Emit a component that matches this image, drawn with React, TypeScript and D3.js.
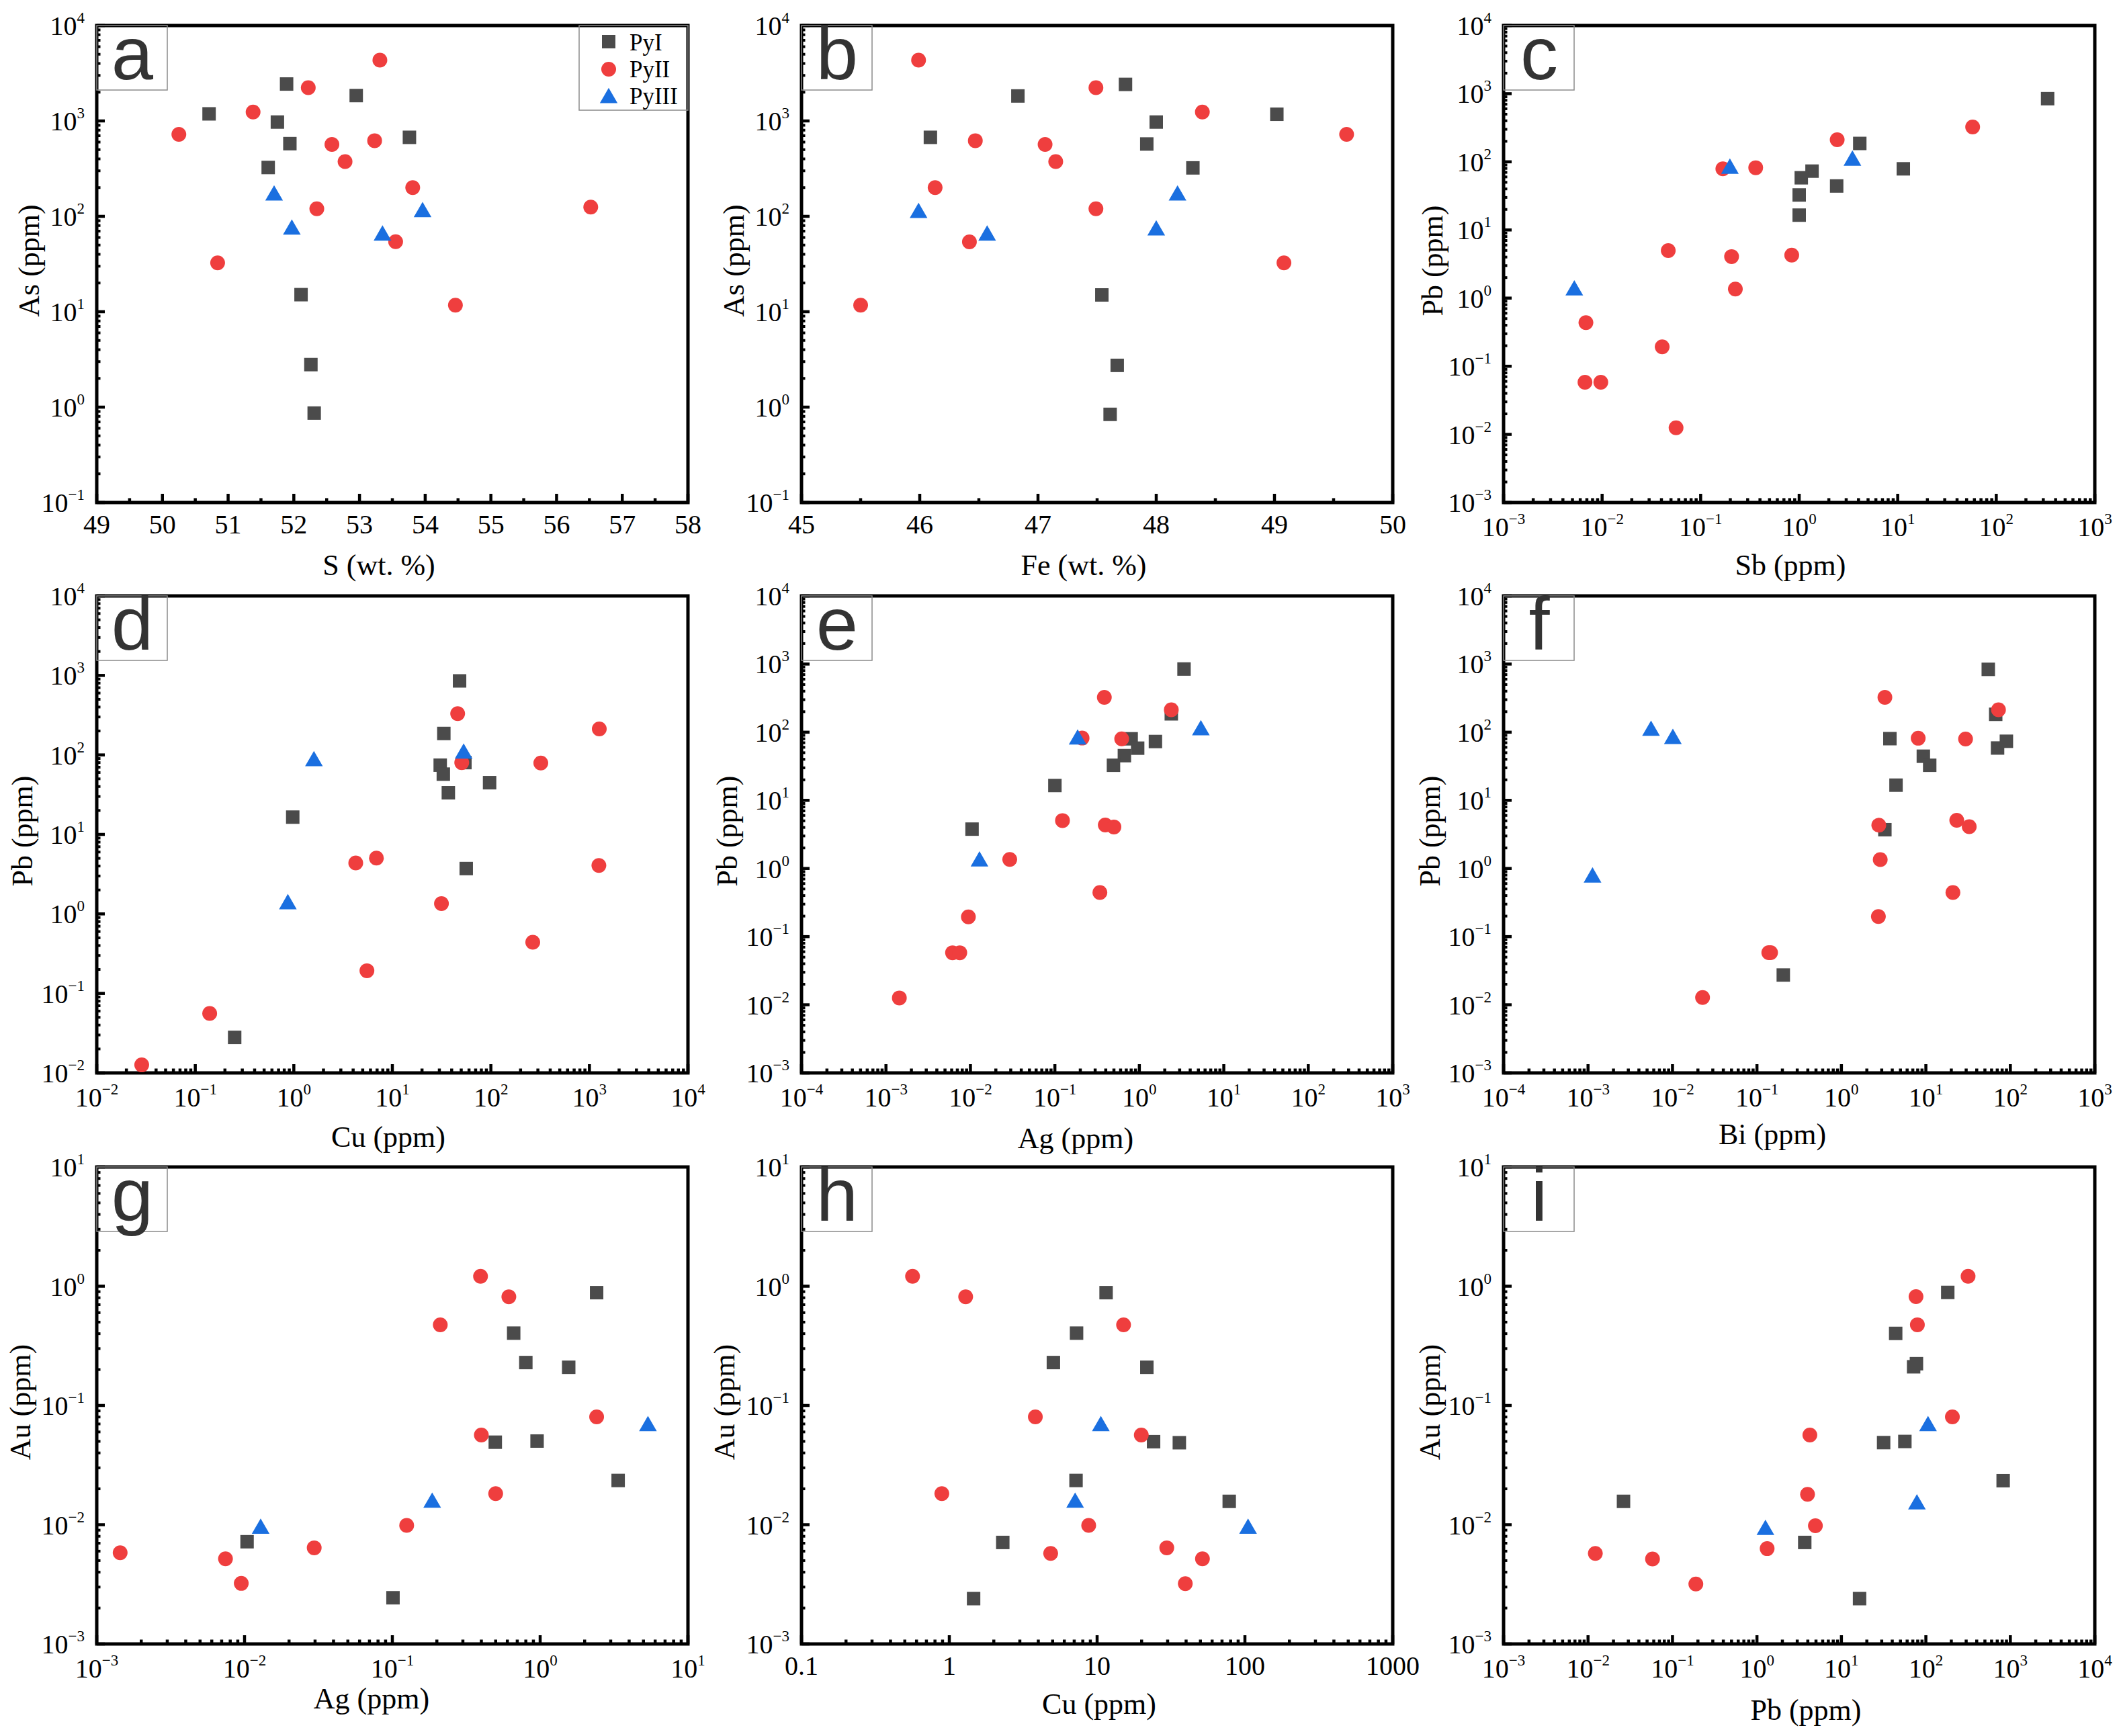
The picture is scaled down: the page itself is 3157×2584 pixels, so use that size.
import * as d3 from "d3";

type Pt = [number, number];

const SERIES = ["PyI", "PyII", "PyIII"];
const COLORS = ["#4b4b4b", "#ef3e3e", "#1a6fe0"];

// a: S (wt.%) vs As (ppm)
const aPyI: Pt[] = [[50.71, 1186], [51.89, 2437], [52.95, 1845], [51.75, 973], [51.94, 578], [51.61, 325], [53.76, 673], [52.11, 15.1], [52.26, 2.79], [52.31, 0.866]];
const aPyII: Pt[] = [[53.31, 4335], [52.22, 2228], [51.38, 1241], [50.25, 723], [52.58, 567], [53.23, 621], [52.78, 375], [53.81, 200], [52.35, 120], [53.55, 54.2], [56.52, 125], [50.84, 32.5], [54.46, 11.7]];
const aPyIII: Pt[] = [[51.7, 171], [51.97, 75], [53.35, 65], [53.96, 114.5]];

// b: Fe (wt.%) vs As (ppm)
const bPyI: Pt[] = [[46.83, 1827], [47.74, 2415], [46.09, 673], [48.0, 973], [47.92, 573], [48.31, 322], [49.02, 1175], [47.54, 15], [47.67, 2.74], [47.61, 0.84]];
const bPyII: Pt[] = [[45.99, 4335], [47.49, 2228], [48.39, 1241], [49.61, 723], [46.47, 621], [47.06, 567], [47.15, 375], [46.13, 200], [47.49, 120], [46.42, 54], [49.08, 32.5], [45.5, 11.7]];
const bPyIII: Pt[] = [[45.99, 112], [46.57, 65], [48.0, 73.6], [48.18, 171]];

// c: Sb vs Pb
const cPyI: Pt[] = [[332, 845], [4.12, 186], [11.4, 78.9], [1.35, 73], [1.05, 58.3], [2.4, 44.2], [1.0, 32.6], [1.0, 16.5]];
const cPyII: Pt[] = [[57.6, 325], [2.43, 211], [0.362, 81.9], [0.168, 78.9], [0.0469, 4.99], [0.206, 4.07], [0.84, 4.28], [0.225, 1.36], [0.00685, 0.437], [0.0407, 0.193], [0.0067, 0.0582], [0.0097, 0.0582], [0.0563, 0.0125]];
const cPyIII: Pt[] = [[0.198, 83], [3.47, 109], [0.00522, 1.36]];

// d: Cu vs Pb
const dPyI: Pt[] = [[48.1, 853], [33.3, 186], [30.6, 74.3], [32.9, 57.3], [54.5, 80], [37, 33.4], [97, 44.7], [0.975, 16.5], [56.2, 3.72], [0.251, 0.028]];
const dPyII: Pt[] = [[46, 330], [1259, 212], [50.6, 80], [321, 79], [4.25, 4.38], [6.89, 5.04], [1247, 4.06], [31.5, 1.35], [266, 0.44], [5.52, 0.193], [0.14, 0.056], [0.0286, 0.0126]];
const dPyIII: Pt[] = [[1.6, 87], [52.9, 108], [0.87, 1.38]];

// e: Ag vs Pb
const ePyI: Pt[] = [[3.38, 845], [2.39, 186], [0.8, 80], [0.955, 58.3], [1.55, 73], [0.665, 45.3], [0.494, 32.7], [0.1, 16.5], [0.01045, 3.78]];
const ePyII: Pt[] = [[0.385, 324], [2.39, 213], [0.21, 82], [0.618, 80], [0.123, 5.05], [0.395, 4.34], [0.5, 4.07], [0.0292, 1.36], [0.341, 0.443], [0.00946, 0.195], [0.00614, 0.058], [0.00748, 0.058], [0.00144, 0.0126]];
const ePyIII: Pt[] = [[0.186, 82], [5.35, 112], [0.0128, 1.33]];

// f: Bi vs Pb
const fPyI: Pt[] = [[54.8, 836], [67.1, 183], [3.75, 80.4], [70.6, 58.6], [89.8, 73.6], [9.33, 44.4], [11.1, 32.7], [4.43, 16.7], [3.27, 3.71], [0.205, 0.0273]];
const fPyII: Pt[] = [[3.27, 324], [72.4, 213], [8.11, 81.5], [29.5, 79.4], [2.77, 4.32], [23.2, 5.09], [32.6, 4.1], [2.88, 1.35], [20.9, 0.443], [2.74, 0.197], [0.138, 0.0583], [0.145, 0.0583], [0.0227, 0.0128]];
const fPyIII: Pt[] = [[0.00557, 110], [0.0101, 83.5], [0.00113, 0.773]];

// g: Ag vs Au
const gPyI: Pt[] = [[2.41, 0.883], [0.662, 0.404], [0.8, 0.229], [1.56, 0.209], [0.497, 0.0492], [0.953, 0.0503], [3.37, 0.0235], [0.0104, 0.0072], [0.101, 0.00244]];
const gPyII: Pt[] = [[0.395, 1.21], [0.614, 0.815], [0.211, 0.474], [2.41, 0.0803], [0.4, 0.0565], [0.5, 0.0182], [0.125, 0.00986], [0.0296, 0.0064], [0.00144, 0.00582], [0.00743, 0.00518], [0.0095, 0.00322]];
const gPyIII: Pt[] = [[5.36, 0.069], [0.186, 0.0157], [0.01285, 0.0095]];

// h: Cu vs Au
const hPyI: Pt[] = [[11.5, 0.883], [7.26, 0.404], [5.06, 0.229], [21.7, 0.209], [24.1, 0.0497], [36, 0.0487], [7.2, 0.0235], [78.3, 0.0157], [2.3, 0.0071], [1.46, 0.0024]];
const hPyII: Pt[] = [[0.564, 1.21], [1.29, 0.815], [15.1, 0.474], [3.82, 0.0803], [19.9, 0.0565], [0.89, 0.0182], [8.77, 0.00986], [29.6, 0.0064], [4.85, 0.00574], [51.6, 0.00518], [39.5, 0.0032]];
const hPyIII: Pt[] = [[10.6, 0.069], [7.1, 0.0157], [105, 0.0095]];

// i: Pb vs Au
const iPyI: Pt[] = [[181.6, 0.887], [43.9, 0.402], [77.3, 0.224], [71.6, 0.211], [31.6, 0.0488], [56.4, 0.0499], [822, 0.0234], [0.0263, 0.0157], [3.68, 0.0071], [16.4, 0.0024]];
const iPyII: Pt[] = [[316, 1.21], [76.4, 0.818], [79.3, 0.475], [206, 0.0803], [4.23, 0.0565], [3.97, 0.018], [4.92, 0.0098], [1.32, 0.0063], [0.0122, 0.00575], [0.058, 0.00516], [0.189, 0.00318]];
const iPyIII: Pt[] = [[106, 0.069], [78.3, 0.0152], [1.26, 0.0093]];

interface Panel {
  letter: string;
  col: number;
  row: number;
  xLog: boolean;
  xDomain: [number, number];
  yDomain: [number, number];
  xTitle: string;
  yTitle: string;
  data: Pt[][];
  xPlain?: boolean;
  titleDx: number;
  titleDy: number;
  yTitleDx: number;
}

const PANELS: Panel[] = [
  { letter: "a", col: 0, row: 0, xLog: false, xDomain: [49, 58], yDomain: [0.1, 1e4], xTitle: "S (wt. %)", yTitle: "As (ppm)", data: [aPyI, aPyII, aPyIII], titleDx: -20, titleDy: 108, yTitleDx: -86 },
  { letter: "b", col: 1, row: 0, xLog: false, xDomain: [45, 50], yDomain: [0.1, 1e4], xTitle: "Fe (wt. %)", yTitle: "As (ppm)", data: [bPyI, bPyII, bPyIII], titleDx: -20, titleDy: 108, yTitleDx: -86 },
  { letter: "c", col: 2, row: 0, xLog: true, xDomain: [1e-3, 1e3], yDomain: [1e-3, 1e4], xTitle: "Sb (ppm)", yTitle: "Pb (ppm)", data: [cPyI, cPyII, cPyIII], titleDx: -13, titleDy: 108, yTitleDx: -91 },
  { letter: "d", col: 0, row: 1, xLog: true, xDomain: [1e-2, 1e4], yDomain: [1e-2, 1e4], xTitle: "Cu (ppm)", yTitle: "Pb (ppm)", data: [dPyI, dPyII, dPyIII], titleDx: -6, titleDy: 110, yTitleDx: -96 },
  { letter: "e", col: 1, row: 1, xLog: true, xDomain: [1e-4, 1e3], yDomain: [1e-3, 1e4], xTitle: "Ag (ppm)", yTitle: "Pb (ppm)", data: [ePyI, ePyII, ePyIII], titleDx: -32, titleDy: 112, yTitleDx: -96 },
  { letter: "f", col: 2, row: 1, xLog: true, xDomain: [1e-4, 1e3], yDomain: [1e-3, 1e4], xTitle: "Bi (ppm)", yTitle: "Pb (ppm)", data: [fPyI, fPyII, fPyIII], titleDx: -40, titleDy: 106, yTitleDx: -95 },
  { letter: "g", col: 0, row: 2, xLog: true, xDomain: [1e-3, 1e1], yDomain: [1e-3, 1e1], xTitle: "Ag (ppm)", yTitle: "Au (ppm)", data: [gPyI, gPyII, gPyIII], titleDx: -31, titleDy: 96, yTitleDx: -99 },
  { letter: "h", col: 1, row: 2, xLog: true, xDomain: [0.1, 1000], yDomain: [1e-3, 1e1], xTitle: "Cu (ppm)", yTitle: "Au (ppm)", data: [hPyI, hPyII, hPyIII], xPlain: true, titleDx: 3, titleDy: 104, yTitleDx: -100 },
  { letter: "i", col: 2, row: 2, xLog: true, xDomain: [1e-3, 1e4], yDomain: [1e-3, 1e1], xTitle: "Pb (ppm)", yTitle: "Au (ppm)", data: [iPyI, iPyII, iPyIII], titleDx: 10, titleDy: 113, yTitleDx: -95 },
];

const WIDTH = 3157;
const HEIGHT = 2584;
const PW = 880;
const PH = 710;
const COL_X = [144, 1193, 2238];
const ROW_Y = [38, 887, 1737];

const SERIF = "Liberation Serif";
const SANS = "Liberation Sans";

const triPath = d3.symbol().type(d3.symbolTriangle).size(300)() as string;

function decades(lo: number, hi: number) {
  return d3.range(Math.round(Math.log10(lo)), Math.round(Math.log10(hi)) + 1);
}

function logMinors(lo: number, hi: number) {
  const out: number[] = [];
  decades(lo, hi).slice(0, -1).forEach((e) => {
    for (let k = 2; k <= 9; k++) out.push(k * Math.pow(10, e));
  });
  return out;
}

function expStr(e: number) {
  return e < 0 ? "\u2212" + -e : String(e);
}

function plainStr(e: number) {
  return e < 0 ? Math.pow(10, e).toFixed(-e) : String(Math.pow(10, e));
}

function Marker({ kind, x, y }: { kind: number; x: number; y: number }) {
  if (kind === 0)
    return <rect x={x - 10} y={y - 10} width={20} height={20} fill={COLORS[0]} />;
  if (kind === 1) return <circle cx={x} cy={y} r={11} fill={COLORS[1]} />;
  return <path d={triPath} transform={`translate(${x},${y + 2})`} fill={COLORS[2]} />;
}

function PanelView({ p }: { p: Panel }) {
  const left = COL_X[p.col];
  const top = ROW_Y[p.row];
  const bottom = top + PH;
  const right = left + PW;

  const x = p.xLog
    ? d3.scaleLog().domain(p.xDomain).range([left, right])
    : d3.scaleLinear().domain(p.xDomain).range([left, right]);
  const y = d3.scaleLog().domain(p.yDomain).range([bottom, top]);

  const xMajor = p.xLog
    ? decades(p.xDomain[0], p.xDomain[1]).map((e) => Math.pow(10, e))
    : d3.range(p.xDomain[0], p.xDomain[1] + 0.001, 1);
  const xMinor = p.xLog
    ? logMinors(p.xDomain[0], p.xDomain[1])
    : d3.range(p.xDomain[0] + 0.5, p.xDomain[1], 1);
  const yExp = decades(p.yDomain[0], p.yDomain[1]);
  const yMinor = logMinors(p.yDomain[0], p.yDomain[1]);

  return (
    <g>
      {/* ticks */}
      {xMinor.map((v, i) => (
        <line key={"xm" + i} x1={x(v)} x2={x(v)} y1={bottom} y2={bottom - 6.5} stroke="#000" strokeWidth={4.5} />
      ))}
      {xMajor.map((v, i) => (
        <line key={"xM" + i} x1={x(v)} x2={x(v)} y1={bottom} y2={bottom - 13} stroke="#000" strokeWidth={4.5} />
      ))}
      {yMinor.map((v, i) => (
        <line key={"ym" + i} x1={left} x2={left + 5.5} y1={y(v)} y2={y(v)} stroke="#000" strokeWidth={4} />
      ))}
      {yExp.map((e) => (
        <line key={"yM" + e} x1={left} x2={left + 12} y1={y(Math.pow(10, e))} y2={y(Math.pow(10, e))} stroke="#000" strokeWidth={4.5} />
      ))}

      {/* frame */}
      <rect x={left} y={top} width={PW} height={PH} fill="none" stroke="#000" strokeWidth={5} />

      <g style={{ fontFamily: SERIF }}>
        {/* x tick labels */}
        {xMajor.map((v, i) => {
          const e = Math.round(Math.log10(v));
          if (!p.xLog || p.xPlain)
            return (
              <text key={"xl" + i} x={x(v)} y={bottom + 46} textAnchor="middle" fontSize={40}>
                {p.xLog ? plainStr(e) : String(v)}
              </text>
            );
          return (
            <text key={"xl" + i} x={x(v)} y={bottom + 50} textAnchor="middle" fontSize={40}>
              10<tspan dy={-18} fontSize={23}>{expStr(e)}</tspan>
            </text>
          );
        })}

        {/* y tick labels */}
        {yExp.map((e) => (
          <text key={"yl" + e} x={left - 18} y={y(Math.pow(10, e)) + 14} textAnchor="end" fontSize={40}>
            10<tspan dy={-18} fontSize={23}>{expStr(e)}</tspan>
          </text>
        ))}

        {/* axis titles */}
        <text x={(left + right) / 2 + p.titleDx} y={bottom + p.titleDy} textAnchor="middle" fontSize={44}>
          {p.xTitle}
        </text>
        <text
          transform={`translate(${left + p.yTitleDx},${(top + bottom) / 2 - 5}) rotate(-90)`}
          textAnchor="middle"
          fontSize={44}
        >
          {p.yTitle}
        </text>
      </g>

      {/* points */}
      {p.data.map((pts, s) =>
        pts.map((d, i) => <Marker key={s + "-" + i} kind={s} x={x(d[0])} y={y(d[1])} />)
      )}

      {/* panel letter */}
      <rect x={left} y={top} width={105} height={96} fill="none" stroke="#8a8a8a" strokeWidth={1.5} />
      <text x={left + 53} y={top + 80} textAnchor="middle" style={{ fontFamily: SANS }} fontSize={112} fill="#333">
        {p.letter}
      </text>

      {p.letter === "a" && (
        <g>
          <rect x={right - 162} y={top} width={162} height={126} fill="none" stroke="#8a8a8a" strokeWidth={1.5} />
          {SERIES.map((name, s) => (
            <g key={name}>
              <Marker kind={s} x={right - 118} y={top + 24 + s * 41} />
              <text x={right - 87} y={top + 37 + s * 40} style={{ fontFamily: SERIF }} fontSize={35}>
                {name}
              </text>
            </g>
          ))}
        </g>
      )}
    </g>
  );
}

export default function App() {
  return (
    <div>
      <style>{"body{margin:0;background:#fff}"}</style>
      <svg width={WIDTH} height={HEIGHT} viewBox={`0 0 ${WIDTH} ${HEIGHT}`} style={{ display: "block", background: "#fff" }}>
        {PANELS.map((p) => (
          <PanelView key={p.letter} p={p} />
        ))}
      </svg>
    </div>
  );
}
